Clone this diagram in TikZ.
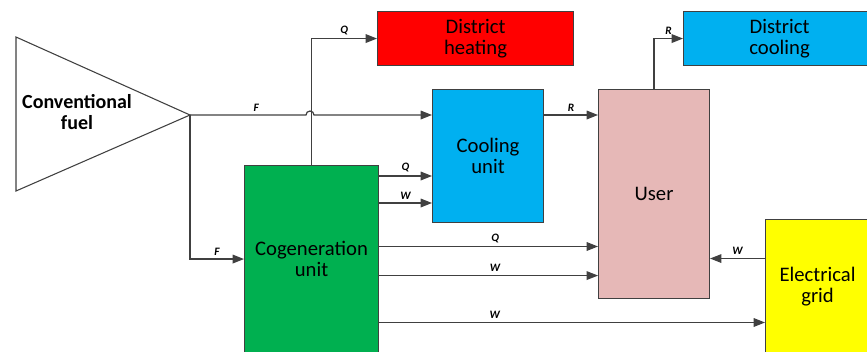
\documentclass[tikz,border=0pt]{standalone}
\usepackage{fontspec}
\setmainfont{Carlito}
\usetikzlibrary{arrows,arrows.meta,calc,positioning}

\definecolor{heatred}{HTML}{FF0000}
\definecolor{coolblue}{HTML}{00B0F0}
\definecolor{userpink}{HTML}{E6B8B7}
\definecolor{cogengreen}{HTML}{00B050}
\definecolor{gridyellow}{HTML}{FFFF00}
\definecolor{linegray}{HTML}{404040}

\begin{document}
\begin{tikzpicture}[x=0.75pt,y=-0.75pt,>={Triangle[length=8.5pt,width=6.5pt]},
    box/.style={draw=linegray,line width=0.8pt,anchor=north west,align=center,
        font=\fontsize{15.5}{16}\selectfont,inner sep=0pt},
    flow/.style={->,draw=linegray,line width=0.9pt},
    lbl/.style={font=\fontsize{8.5}{10}\selectfont\bfseries\itshape,inner sep=2.5pt}]
\useasboundingbox (0,0) rectangle (867,351);
\clip (0,0) rectangle (867,351);

% fuel source
\coordinate (apex) at (190,115);
\draw[draw=linegray,line width=0.8pt,fill=white] (16,37) -- (apex) -- (16,191) -- cycle;
\node[font=\fontsize{15}{16}\selectfont\bfseries,align=center] (fuel) at (77,112) {Conventional\\fuel};

% blocks
\node[box,fill=heatred,minimum width=147pt,minimum height=40.5pt] (heat) at (377,11) {District\\heating};
\node[box,fill=coolblue,minimum width=144pt,minimum height=40.5pt] (dcool) at (683,11) {District\\cooling};
\node[box,fill=coolblue,minimum width=83.25pt,minimum height=99.75pt] (cool) at (432,89) {Cooling\\unit};
\node[box,fill=userpink,minimum width=83.25pt,minimum height=156.75pt] (user) at (598,89) {User};
\node[box,fill=cogengreen,minimum width=100.5pt,minimum height=140.25pt] (cogen) at (244,165) {Cogeneration\\unit};
\node[box,fill=gridyellow,minimum width=78pt,minimum height=100.5pt] (grid) at (765,219) {Electrical\\grid};

% flows
\draw[flow] (apex) -- node[lbl,above,pos=0.57] {F} (306,115)
    arc[start angle=180,end angle=0,radius=3pt] -- (cool.west |- apex);
\draw[flow] (apex) |- (cogen.west) node[lbl,above,pos=0.75] {F};
\draw[flow] (cogen.north) |- (heat.west) node[lbl,above,pos=0.75] {Q};
\draw[flow] ([yshift=-8.25pt]cogen.north east) -- ([yshift=-8.25pt]cogen.north east -| cool.west)
    node[lbl,above,midway] {Q};
\draw[flow] ([yshift=-28.5pt]cogen.north east) -- ([yshift=-28.5pt]cogen.north east -| cool.west)
    node[lbl,above,midway] {W};
\draw[flow] (cool.east |- apex) -- (user.west |- apex) node[lbl,above,midway] {R};
\draw[flow] (user.north) |- (dcool.west) node[lbl,above,pos=0.75] {R};
\draw[flow] ([yshift=9.4pt]cogen.east) -- ([yshift=9.4pt]cogen.east -| user.west)
    node[lbl,above,pos=0.53] {Q};
\draw[flow] ([yshift=-12.4pt]cogen.east) -- ([yshift=-12.4pt]cogen.east -| user.west)
    node[lbl,above,pos=0.53] {W};
\draw[flow] ([yshift=-47.6pt]cogen.east) -- ([yshift=-47.6pt]cogen.east -| grid.west)
    node[lbl,above,pos=0.3] {W};
\draw[flow] ([yshift=21pt]grid.west) -- ([yshift=21pt]grid.west -| user.east)
    node[lbl,above,midway] {W};
\end{tikzpicture}
\end{document}
